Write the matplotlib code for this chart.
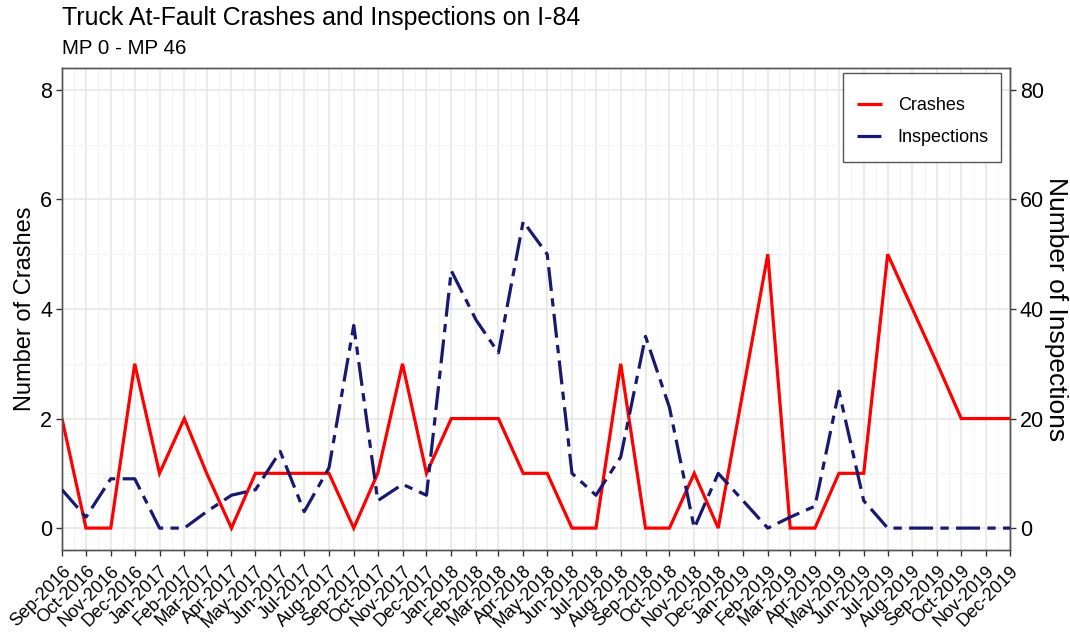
import matplotlib
matplotlib.use("Agg")
import matplotlib.pyplot as plt
import matplotlib.dates as mdates
from matplotlib.patches import Rectangle
import numpy as np
import pandas as pd

plt.rcParams['font.family'] = ['Liberation Sans', 'DejaVu Sans']

# Monthly records (no record for Jan-2019)
months = ['2016-09', '2016-10', '2016-11', '2016-12',
          '2017-01', '2017-02', '2017-03', '2017-04', '2017-05', '2017-06',
          '2017-07', '2017-08', '2017-09', '2017-10', '2017-11', '2017-12',
          '2018-01', '2018-02', '2018-03', '2018-04', '2018-05', '2018-06',
          '2018-07', '2018-08', '2018-09', '2018-10', '2018-11', '2018-12',
          '2019-02', '2019-03', '2019-04', '2019-05', '2019-06',
          '2019-07', '2019-08', '2019-09', '2019-10', '2019-11', '2019-12']
crashes = [2, 0, 0, 3,
           1, 2, 1, 0, 1, 1, 1, 1, 0, 1, 3, 1,
           2, 2, 2, 1, 1, 0, 0, 3, 0, 0, 1, 0,
           5, 0, 0, 1, 1, 5, 4, 3, 2, 2, 2]
inspections = [7, 2, 9, 9,
               0, 0, 3, 6, 7, 14, 3, 11, 37, 5, 8, 6,
               47, 38, 32, 56, 50, 10, 6, 13, 35, 22, 0, 10,
               0, 2, 4, 25, 5, 0, 0, 0, 0, 0, 0]

crash_ticks = [0, 2, 4, 6, 8]
insp_ticks = [0, 20, 40, 60, 80]
title = 'Truck At-Fault Crashes and Inspections on I-84'
subtitle = 'MP 0 - MP 46'

dates = pd.to_datetime(months, format='%Y-%m')
tick_dates = pd.date_range('2016-09-01', '2019-12-01', freq='MS')
tick_labels = [d.strftime('%b-%Y') for d in tick_dates]

W, H = 1070, 638
AX_L, AX_R, AX_T, AX_B = 62, 1010, 68, 550
fig = plt.figure(figsize=(W / 100, H / 100), dpi=100)
ax = fig.add_axes([AX_L / W, 1 - AX_B / H, (AX_R - AX_L) / W, (AX_B - AX_T) / H])


def px_to_axes(px, py):
    return (px - AX_L) / (AX_R - AX_L), 1 - (py - AX_T) / (AX_B - AX_T)


x_num = mdates.date2num(dates)
tick_num = mdates.date2num(tick_dates)
minor_num = (tick_num[:-1] + tick_num[1:]) / 2

# Grid: major at month starts / even counts, minor in between
for v in minor_num:
    ax.axvline(v, color='#F4F4F4', lw=0.8, zorder=0)
for v in tick_num:
    ax.axvline(v, color='#E6E6E6', lw=1.1, zorder=0)
for v in [1, 3, 5, 7]:
    ax.axhline(v, color='#F4F4F4', lw=0.8, zorder=0)
for v in crash_ticks:
    ax.axhline(v, color='#E6E6E6', lw=1.1, zorder=0)

ax.set_xlim(tick_num[0], tick_num[-1])
ax.set_ylim(-0.4, 8.4)

l1, = ax.plot(x_num, crashes, color='#FF0000', lw=2.3, zorder=3,
              solid_joinstyle='miter', solid_capstyle='butt', label='Crashes')

ax2 = ax.twinx()
ax2.set_ylim(-4, 84)
l2, = ax2.plot(x_num, inspections, color='#191970', lw=2.3, zorder=4,
               dashes=(7.5, 2.3, 2.6, 2.3), label='Inspections')

ax.set_xticks(tick_num)
ax.set_xticklabels(tick_labels, rotation=45, ha='right', va='top',
                   rotation_mode='anchor', fontsize=13)
ax.set_yticks(crash_ticks)
ax.set_yticklabels([str(t) for t in crash_ticks], fontsize=15.5)
ax2.set_yticks(insp_ticks)
ax2.set_yticklabels([str(t) for t in insp_ticks], fontsize=15.5)

for a in (ax, ax2):
    a.tick_params(axis='both', length=4, width=1, color='#333333', labelcolor='black', pad=3)
    for s in a.spines.values():
        s.set_color('#555555')
        s.set_linewidth(1.0)
ax.tick_params(axis='x', pad=5)

fig.text(25 / W, 1 - 309 / H, 'Number of Crashes', rotation=90,
         ha='center', va='center', fontsize=17)
fig.text(1056 / W, 1 - 309 / H, 'Number of Inspections', rotation=-90,
         ha='center', va='center', fontsize=19)

fig.text(62 / W, 1 - 25 / H, title, ha='left', va='baseline', fontsize=17.9)
fig.text(62 / W, 1 - 54 / H, subtitle, ha='left', va='baseline', fontsize=14.8)

# Legend box
(bx0, by1), (bx1, by0) = px_to_axes(843, 73), px_to_axes(1001, 162)
ax2.add_patch(Rectangle((bx0, by0), bx1 - bx0, by1 - by0, transform=ax2.transAxes,
                        facecolor='white', edgecolor='#555555', lw=1.0, zorder=6,
                        clip_on=False))
leg = ax2.legend(handles=[l1, l2], loc='upper left',
                 bbox_to_anchor=px_to_axes(857, 97),
                 borderaxespad=0, borderpad=0, fontsize=13, frameon=False,
                 handlelength=1.4, handletextpad=0.85, labelspacing=0.85)
leg.set_zorder(7)

fig.savefig('out.png', dpi=100)
